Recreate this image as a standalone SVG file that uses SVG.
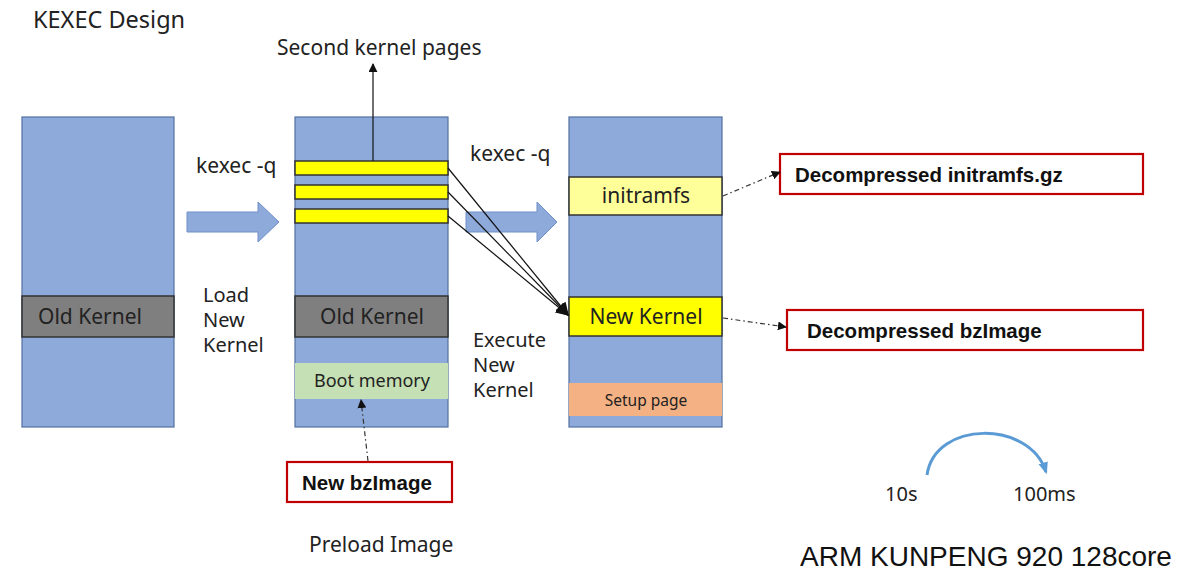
<svg xmlns="http://www.w3.org/2000/svg" width="1199" height="571" viewBox="0 0 1199 571">
  <defs>
    <style>
      .t { font-family: "Noto Sans", "Open Sans", "DejaVu Sans", sans-serif; fill: #222; }
      .b { font-family: "Liberation Sans", Arial, sans-serif; font-weight: bold; fill: #111; font-size: 20.5px; }
      .col { fill: #8eaadb; stroke: #51709f; stroke-width: 1.2; }
      .band { stroke: #333; stroke-width: 1.5; }
      .redbox { fill: #fff; stroke: #c00000; stroke-width: 2.2; }
      .fat { fill: #8eaadb; stroke: #6f8fc7; stroke-width: 1; }
      .ln { stroke: #111; stroke-width: 1.2; fill: none; }
      .dash { stroke: #333; stroke-width: 1.2; fill: none; stroke-dasharray: 5 3 1.5 3; }
    </style>
    <marker id="ah" viewBox="0 0 10 10" refX="9" refY="5" markerWidth="9" markerHeight="9" markerUnits="userSpaceOnUse" orient="auto">
      <path d="M0,0 L10,5 L0,10 z" fill="#111"/>
    </marker>
    <marker id="ahb" viewBox="0 0 10 10" refX="9" refY="5" markerWidth="13" markerHeight="13" markerUnits="userSpaceOnUse" orient="auto">
      <path d="M0,0 L10,5 L0,10 z" fill="#111"/>
    </marker>
    <marker id="ahblue" viewBox="0 0 10 10" refX="8" refY="5" markerWidth="12" markerHeight="12" markerUnits="userSpaceOnUse" orient="auto">
      <path d="M0,1 L10,5 L0,9 z" fill="#5b9bd5"/>
    </marker>
  </defs>

  <rect width="1199" height="571" fill="#fff"/>

  <text class="t" x="33" y="28" font-size="23.5">KEXEC Design</text>

  <!-- memory column: old kernel -->
  <g id="col-old">
    <rect class="col" x="22" y="117" width="152" height="310"/>
    <rect class="band" x="22" y="296" width="152" height="41" fill="#7f7f7f"/>
    <text class="t" x="90" y="324" font-size="21" text-anchor="middle">Old Kernel</text>
  </g>

  <!-- memory column: after kexec load -->
  <g id="col-loaded">
    <rect class="col" x="295" y="117" width="153" height="310"/>
    <rect class="band" x="295" y="161" width="153" height="14" fill="#ffff00" stroke-width="1"/>
    <rect class="band" x="295" y="185" width="153" height="14" fill="#ffff00" stroke-width="1"/>
    <rect class="band" x="295" y="209" width="153" height="14" fill="#ffff00" stroke-width="1"/>
    <rect class="band" x="295" y="296" width="153" height="41" fill="#7f7f7f"/>
    <text class="t" x="372" y="324" font-size="21" text-anchor="middle">Old Kernel</text>
    <rect x="295" y="363" width="153" height="36" fill="#c5e0b4"/>
    <text class="t" x="372" y="387" font-size="18" text-anchor="middle">Boot memory</text>
  </g>

  <!-- memory column: new kernel running -->
  <g id="col-new">
    <rect class="col" x="569" y="117" width="153" height="310"/>
    <rect class="band" x="569" y="177" width="153" height="38" fill="#ffff99"/>
    <text class="t" x="646" y="203" font-size="21" text-anchor="middle">initramfs</text>
    <rect class="band" x="569" y="297" width="153" height="39" fill="#ffff00"/>
    <text class="t" x="646" y="324" font-size="21" text-anchor="middle">New Kernel</text>
    <rect x="569" y="383" width="153" height="33" fill="#f4b183"/>
    <text class="t" x="646" y="406" font-size="15.5" text-anchor="middle">Setup page</text>
  </g>

  <g id="box-initramfs">
    <rect class="redbox" x="780" y="154" width="363" height="40"/>
    <text class="b" x="795" y="182">Decompressed initramfs.gz</text>
  </g>
  <g id="box-bzimage">
    <rect class="redbox" x="787" y="310" width="356" height="40"/>
    <text class="b" x="807" y="338">Decompressed bzImage</text>
  </g>
  <g id="box-newbz">
    <rect class="redbox" x="287" y="462" width="165" height="40"/>
    <text class="b" x="302" y="490">New bzImage</text>
  </g>

  <!-- labels -->
  <g id="labels">
    <text class="t" x="277" y="55" font-size="21">Second kernel pages</text>
    <text class="t" x="196" y="173" font-size="21">kexec -q</text>
    <text class="t" x="470" y="161" font-size="21">kexec -q</text>
    <text class="t" x="203" y="302" font-size="20">Load</text>
    <text class="t" x="203" y="327" font-size="20">New</text>
    <text class="t" x="203" y="352" font-size="20">Kernel</text>
    <text class="t" x="473" y="347" font-size="20">Execute</text>
    <text class="t" x="473" y="372" font-size="20">New</text>
    <text class="t" x="473" y="397" font-size="20">Kernel</text>
    <text class="t" x="309" y="552" font-size="21">Preload Image</text>
    <text class="t" x="885" y="501" font-size="20">10s</text>
    <text class="t" x="1013" y="501" font-size="20">100ms</text>
    <text x="800" y="566" font-size="28" font-family="Liberation Sans, Arial, sans-serif" fill="#111">ARM KUNPENG 920 128core</text>
  </g>

  <!-- connectors -->
  <g id="connectors">
    <path class="fat" d="M187,212 L258,212 L258,202 L279,222 L258,242 L258,232 L187,232 z"/>
    <path class="fat" d="M466,212 L537,212 L537,202 L557,222 L537,242 L537,232 L466,232 z"/>
    <line class="ln" x1="373" y1="161" x2="373" y2="64" marker-end="url(#ah)"/>
    <line class="ln" x1="448" y1="168" x2="568" y2="315" marker-end="url(#ahb)"/>
    <line class="ln" x1="448" y1="192" x2="568" y2="315" marker-end="url(#ahb)"/>
    <line class="ln" x1="448" y1="216" x2="568" y2="315" marker-end="url(#ahb)"/>
    <line class="dash" x1="723" y1="196" x2="780" y2="172" marker-end="url(#ah)"/>
    <line class="dash" x1="723" y1="318" x2="786" y2="327" marker-end="url(#ah)"/>
    <line class="dash" x1="368" y1="461" x2="361" y2="400" marker-end="url(#ah)"/>
    <path d="M927,475 C935,420 1030,420 1046,472" fill="none" stroke="#5b9bd5" stroke-width="3" marker-end="url(#ahblue)"/>
  </g>
</svg>
